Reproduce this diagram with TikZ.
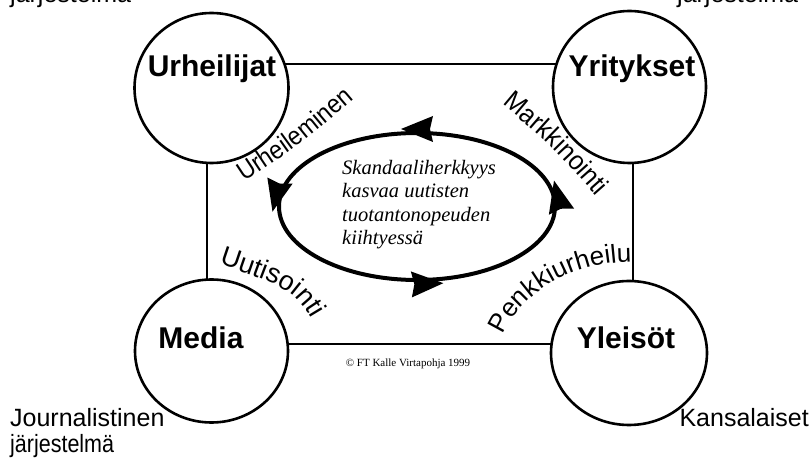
\documentclass[tikz,border=0pt]{standalone}
\usepackage{fontspec}
\setmainfont{Liberation Sans}
\newfontfamily\tnr{Liberation Serif}
\newfontfamily\narrowA{Liberation Sans}[FakeStretch=0.9]
\newfontfamily\narrowB{Liberation Sans}[FakeStretch=0.92]
\usetikzlibrary{decorations.markings,decorations.text,shapes.geometric}

\tikzset{
  actor/.style={ellipse, draw, line width=2.6pt, fill=white, inner sep=0pt},
  actorlabel/.style={inner sep=0pt, anchor=base, font=\bfseries\fontsize{30}{30}\selectfont},
  rim/.style={line width=2.2pt},
  ring/.style={line width=4pt},
  corner/.style={inner sep=0pt, font=\fontsize{25}{26}\selectfont},
}
\newcommand\ringhead{\fill (-16pt,-17pt) -- (16pt,-4pt) -- (-16pt,9pt) -- (-13pt,-4pt) -- cycle;}

\begin{document}
\begin{tikzpicture}[x=1pt,y=1pt]
\useasboundingbox (0,0) rectangle (812,458);
\clip (0,0) rectangle (812,458);
\fill[white] (0,0) rectangle (812,458);

% rectangle frame
\coordinate (p1) at (207,394);
\coordinate (p2) at (633,394);
\coordinate (p3) at (633,114);
\coordinate (p4) at (207,114);
\draw[rim] (p1) -- (p2) -- (p3) -- (p4) -- cycle;

% central cycle
\coordinate (E) at (417,251.5);
\draw[ring, postaction={decorate}, decoration={markings,
   mark=at position 0.014 with {\ringhead},
   mark=at position 0.25 with {\ringhead},
   mark=at position 0.486 with {\ringhead},
   mark=at position 0.765 with {\ringhead}}]
  (E) ellipse [x radius=138, y radius=73.5];

\node[inner sep=0pt, anchor=base west, align=left,
      font=\tnr\itshape\fontsize{20.5}{23.5}\selectfont] (T) at (342,213)
  {Skandaaliherkkyys\\kasvaa uutisten\\tuotantonopeuden\\kiihtyessä};

% actors
\node[actor, minimum width=154, minimum height=150] (U) at (211.5,370) {};
\node[actor, minimum width=153, minimum height=152] (Y) at (629.5,371) {};
\node[actor, minimum width=153, minimum height=143] (M) at (211.5,107) {};
\node[actor, minimum width=156, minimum height=144] (L) at (629,105) {};

\node[actorlabel] (Ut) at (212,381) {Urheilijat};
\node[actorlabel] (Yt) at (632,381) {Yritykset};
\node[actorlabel] (Mt) at (201,109) {Media};
\node[actorlabel] (Lt) at (626,109) {Yleisöt};

% curved relation labels
\path[decorate, decoration={text along path, text align=left,
   text={|\narrowA\fontsize{26}{26}\selectfont|Urheileminen}}]
  (244,276) .. controls (300,313) .. (354,359);
\path[decorate, decoration={text along path, text align=left,
   text={|\narrowB\fontsize{27}{27}\selectfont|Markkinointi}}]
  (502,354) .. controls (550,314) .. (596,262);
\path[decorate, decoration={text along path, text align=left,
   text={|\fontsize{27}{27}\selectfont|Uutisointi}}]
  (219,194) .. controls (296,168) .. (322,120);
\path[decorate, decoration={text along path, text align=left,
   text={|\fontsize{26}{26}\selectfont|Penkkiurheilu}}]
  (503,123) .. controls (520,163) and (570,196) .. (630,196);

% copyright
\node[inner sep=0pt, anchor=base, font=\tnr\fontsize{11}{11}\selectfont] (C) at (408,91)
  {© FT Kalle Virtapohja 1999};

% corner labels
\node[corner, anchor=base west] (J1) at (10,31) {Journalistinen};
\node[corner, anchor=base west, xscale=0.86, transform shape] (J2) at (10,5) {järjestelmä};
\node[corner, anchor=base east] (K) at (809,31) {Kansalaiset};
\node[corner, anchor=base west] (TL) at (10,455) {järjestelmä};
\node[corner, anchor=base west] (TR) at (677,455) {järjestelmä};
\end{tikzpicture}
\end{document}
